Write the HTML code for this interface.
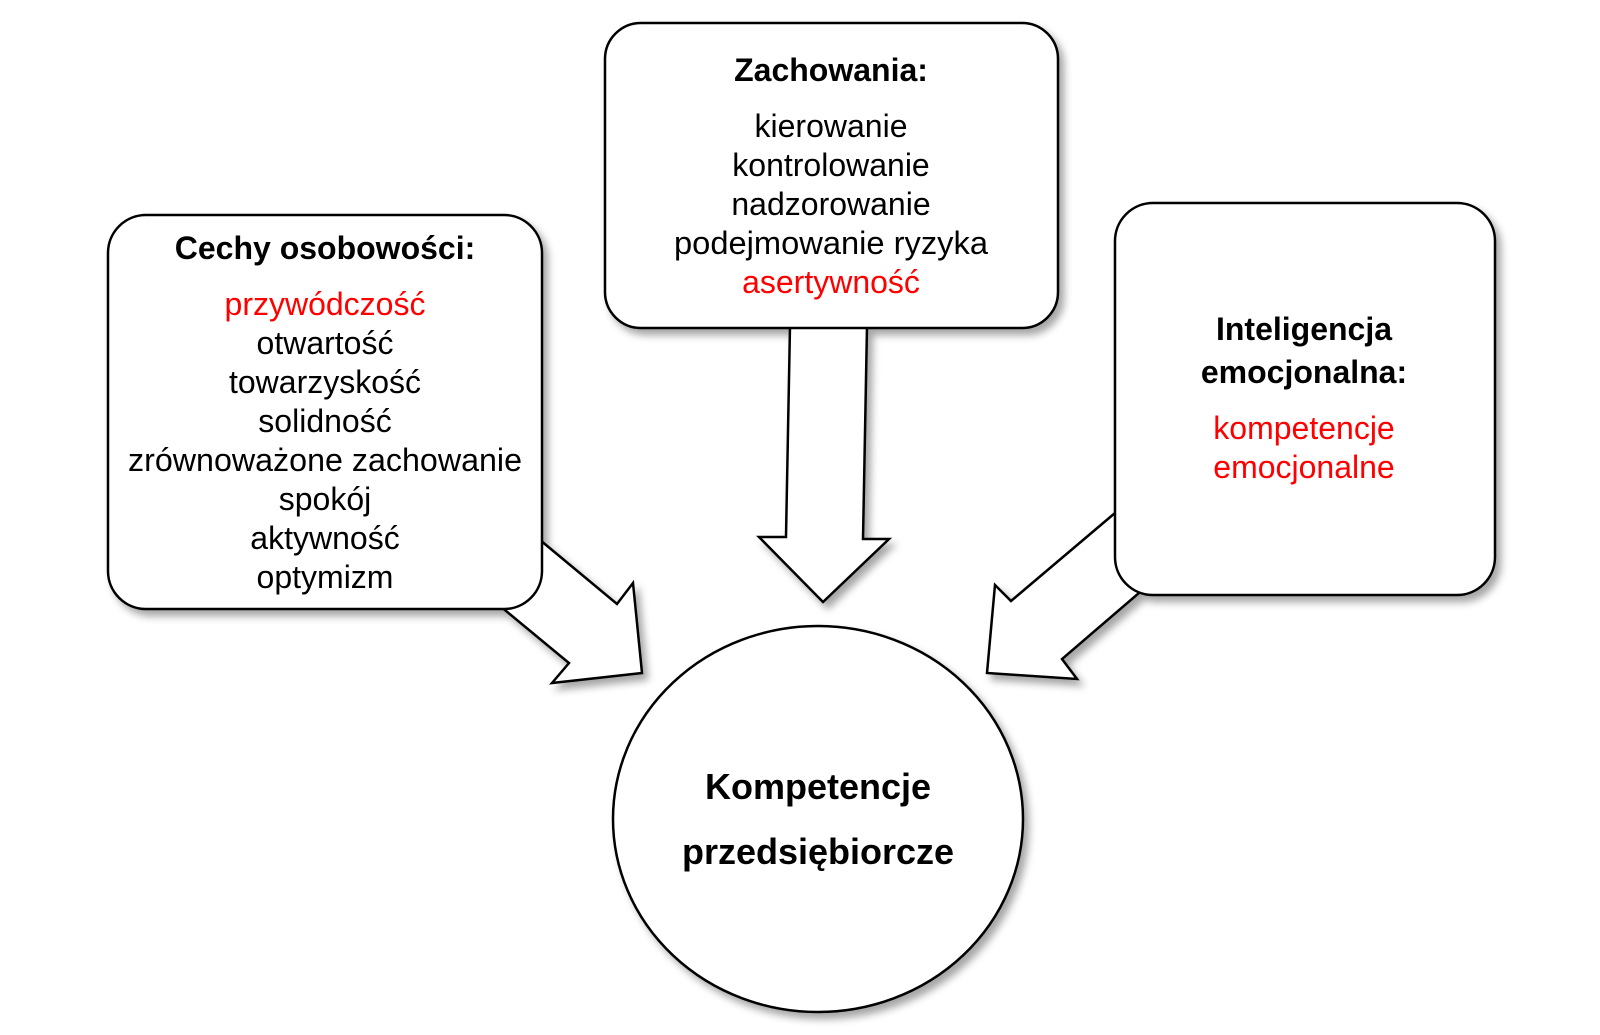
<!DOCTYPE html>
<html><head><meta charset="utf-8"><style>
html,body{margin:0;padding:0;background:#fff}
svg{display:block}
text{font-family:"Liberation Sans",sans-serif;font-size:32px;text-anchor:middle}
.b{font-weight:bold;font-size:32px}
.c{font-weight:bold;font-size:36px}
.r{fill:#ff0000}
</style></head><body>
<svg width="1600" height="1035" viewBox="0 0 1600 1035">
<defs><filter id="s" x="-20%" y="-20%" width="140%" height="140%"><feDropShadow dx="5" dy="6" stdDeviation="4" flood-color="#000" flood-opacity="0.35"/></filter></defs>
<g fill="#fff" stroke="#000" stroke-width="2.5" filter="url(#s)">
<polygon points="540,540 617,604 633,583 642,673 552,683 569,663 500,606"/>
<polygon points="790,326 867,326 863,539 889,539 823,602 759,537 786,537"/>
<polygon points="1115,513 1011,601 995,585 987,673 1077,679 1062,659 1139,593"/>
<rect x="108" y="215" width="434" height="394" rx="38"/>
<rect x="605" y="23" width="453" height="305" rx="36"/>
<rect x="1115" y="203" width="380" height="392" rx="38"/>
<ellipse cx="818" cy="819" rx="205" ry="193"/>
</g>
<text class="b" x="325" y="259">Cechy osobowości:</text>
<text class="r" x="325" y="315">przywódczość</text>
<text x="325" y="354">otwartość</text>
<text x="325" y="393">towarzyskość</text>
<text x="325" y="432">solidność</text>
<text x="325" y="471" textLength="394" lengthAdjust="spacingAndGlyphs">zrównoważone zachowanie</text>
<text x="325" y="510">spokój</text>
<text x="325" y="549">aktywność</text>
<text x="325" y="588">optymizm</text>
<text class="b" x="831" y="81">Zachowania:</text>
<text x="831" y="137">kierowanie</text>
<text x="831" y="176">kontrolowanie</text>
<text x="831" y="215">nadzorowanie</text>
<text x="831" y="254" textLength="314" lengthAdjust="spacingAndGlyphs">podejmowanie ryzyka</text>
<text class="r" x="831" y="293">asertywność</text>
<text class="b" x="1304" y="340">Inteligencja</text>
<text class="b" x="1304" y="383">emocjonalna:</text>
<text class="r" x="1304" y="439">kompetencje</text>
<text class="r" x="1304" y="478">emocjonalne</text>
<text class="c" x="818" y="799">Kompetencje</text>
<text class="c" x="818" y="864">przedsiębiorcze</text>
</svg>
</body></html>
